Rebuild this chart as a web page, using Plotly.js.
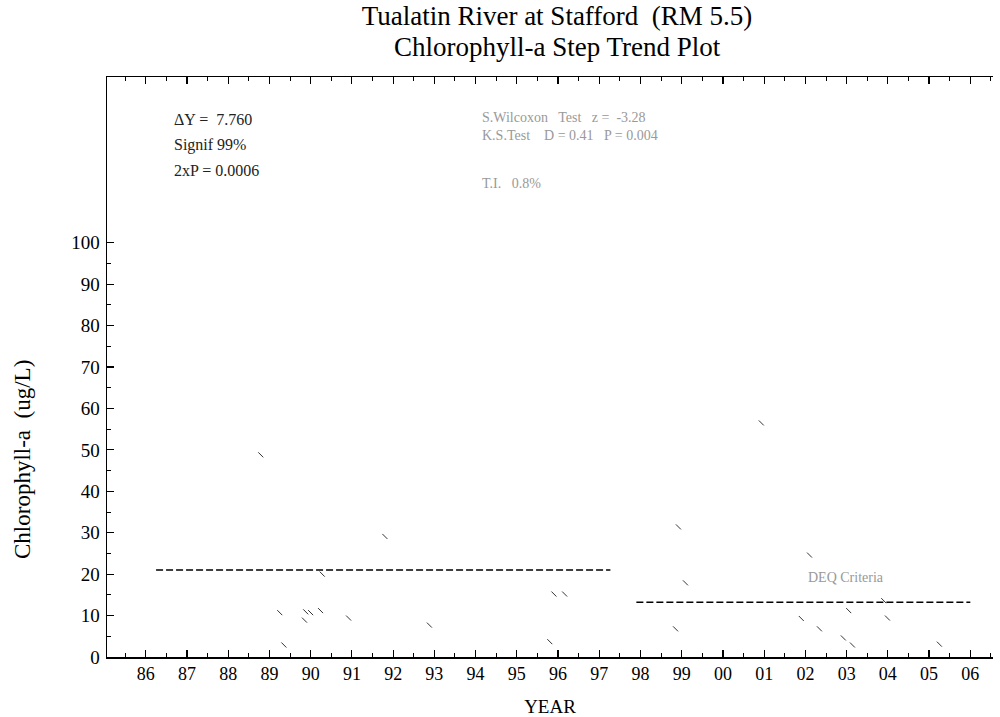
<!DOCTYPE html>
<html>
<head>
<meta charset="utf-8">
<script src="https://cdn.plot.ly/plotly-3.0.1.min.js"></script>
<style>html,body{margin:0;padding:0;background:#fff;}#chart{width:1000px;height:717px;}</style>
</head>
<body>
<div id="chart"></div>
<script>
// Sample years (decimal) and chlorophyll-a values (ug/L)
var sampleYears = [1988.79, 1989.25, 1989.35, 1989.88, 1990.0, 1989.85, 1990.24, 1990.28, 1990.92, 1991.8, 1992.88,
                   1995.8, 1995.9, 1996.16, 1998.85, 1998.92, 1999.09, 2000.93, 2001.9, 2002.1, 2002.34,
                   2002.92, 2003.05, 2003.14, 2003.9, 2003.99, 2005.25];
var chlValues   = [48.8, 10.7, 2.9, 10.9, 10.7, 8.9, 11.2, 20.0, 9.4, 29.1, 7.7,
                   3.7, 15.2, 15.2, 6.8, 31.4, 17.9, 56.5, 9.3, 24.6, 6.8,
                   4.6, 11.2, 2.9, 13.6, 9.4, 3.1];

// Step trend levels (period means)
var step1Years = [1986.25, 1997.27];
var step1Level = [21.0, 21.0];
var step2Years = [1997.9, 2006.0];
var step2Level = [13.24, 13.24];

// Axis ticks
var yearTickVals = [1986,1987,1988,1989,1990,1991,1992,1993,1994,1995,1996,1997,1998,1999,2000,2001,2002,2003,2004,2005,2006];
var yearTickText = ['86','87','88','89','90','91','92','93','94','95','96','97','98','99','00','01','02','03','04','05','06'];
var chlTickVals = [0,10,20,30,40,50,60,70,80,90,100];
var chlMinorVals = [5,15,25,35,45,55,65,75,85,95];

var serif = 'Liberation Serif, Times New Roman, serif';

var traces = [
  {
    x: sampleYears, y: chlValues, mode: 'markers', type: 'scatter',
    marker: {symbol: 'line-nw-open', size: 5, color: '#333', line: {width: 1, color: '#333'}},
    showlegend: false, hoverinfo: 'x+y'
  },
  {
    x: step1Years, y: step1Level, mode: 'lines', type: 'scatter',
    line: {color: '#000', width: 1.5, dash: '7px,3px'}, showlegend: false
  },
  {
    x: step2Years, y: step2Level, mode: 'lines', type: 'scatter',
    line: {color: '#000', width: 1.5, dash: '7px,3px'}, showlegend: false
  }
];

var layout = {
  width: 1000, height: 717,
  margin: {l: 107, r: 7, t: 77, b: 60},
  paper_bgcolor: '#fff', plot_bgcolor: '#fff',
  font: {family: serif, color: '#000'},
  title: {
    text: 'Tualatin River at Stafford  (RM 5.5)',
    font: {family: serif, size: 27, color: '#000'},
    xref: 'container', x: 0.557, xanchor: 'center',
    yref: 'container', y: 1 - 16/717, yanchor: 'middle'
  },
  xaxis: {
    range: [1985.06, 2006.55],
    tickmode: 'array', tickvals: yearTickVals, ticktext: yearTickText,
    ticks: 'inside', ticklen: 7, tickwidth: 1.2, tickcolor: '#000',
    minor: {dtick: 0.5, tick0: 1985.5, ticks: 'inside', ticklen: 4, tickwidth: 1, tickcolor: '#000'},
    showline: true, linecolor: '#000', linewidth: 1.5, mirror: 'ticks',
    showgrid: false, zeroline: false,
    tickfont: {family: serif, size: 18, color: '#000'},
    title: {text: 'YEAR', font: {family: serif, size: 19, color: '#000'}, standoff: 20}
  },
  yaxis: {
    range: [0, 140],
    tickmode: 'array', tickvals: chlTickVals,
    ticks: 'inside', ticklen: 7, tickwidth: 1.2, tickcolor: '#000',
    minor: {tickmode: 'array', tickvals: chlMinorVals, ticks: 'inside', ticklen: 4, tickwidth: 1, tickcolor: '#000'},
    showline: true, linecolor: '#000', linewidth: 1.5, mirror: false,
    showgrid: false, zeroline: false,
    ticklabelstandoff: 2,
    tickfont: {family: serif, size: 19, color: '#000'}
  },
  annotations: [
    {text: 'Chlorophyll-a Step Trend Plot', xref: 'paper', yref: 'paper', x: 0.508, y: (657-47)/580,
     xanchor: 'center', yanchor: 'middle', showarrow: false, font: {family: serif, size: 27, color: '#000'}},
    {text: 'Chlorophyll-a  (ug/L)', xref: 'paper', yref: 'paper', x: (22-107)/886, y: (657-460)/580,
     xanchor: 'center', yanchor: 'middle', textangle: -90, showarrow: false,
     font: {family: serif, size: 23, color: '#000'}},
    {text: 'ΔY =  7.760', xref: 'paper', yref: 'paper', x: 0.0734, y: (657-119)/580,
     xanchor: 'left', yanchor: 'middle', showarrow: false, font: {family: serif, size: 16, color: '#222'}},
    {text: 'Signif 99%', xref: 'paper', yref: 'paper', x: 0.0734, y: (657-145)/580,
     xanchor: 'left', yanchor: 'middle', showarrow: false, font: {family: serif, size: 16, color: '#222'}},
    {text: '2xP = 0.0006', xref: 'paper', yref: 'paper', x: 0.0734, y: (657-170)/580,
     xanchor: 'left', yanchor: 'middle', showarrow: false, font: {family: serif, size: 16, color: '#222'}},
    {text: 'S.Wilcoxon   Test   z =  -3.28', xref: 'paper', yref: 'paper', x: 0.421, y: (657-118)/580,
     xanchor: 'left', yanchor: 'middle', showarrow: false, font: {family: serif, size: 14, color: '#999'}},
    {text: 'K.S.Test    D = 0.41   P = 0.004', xref: 'paper', yref: 'paper', x: 0.421, y: (657-135)/580,
     xanchor: 'left', yanchor: 'middle', showarrow: false, font: {family: serif, size: 14, color: '#999'}},
    {text: 'T.I.   0.8%', xref: 'paper', yref: 'paper', x: 0.421, y: (657-183)/580,
     xanchor: 'left', yanchor: 'middle', showarrow: false, font: {family: serif, size: 14, color: '#999'}},
    {text: 'DEQ Criteria', xref: 'x', yref: 'y', x: 2002.02, y: 19.1,
     xanchor: 'left', yanchor: 'middle', showarrow: false, font: {family: serif, size: 14, color: '#999'}}
  ]
};

Plotly.newPlot('chart', traces, layout, {displayModeBar: false, staticPlot: true});
</script>
</body>
</html>
